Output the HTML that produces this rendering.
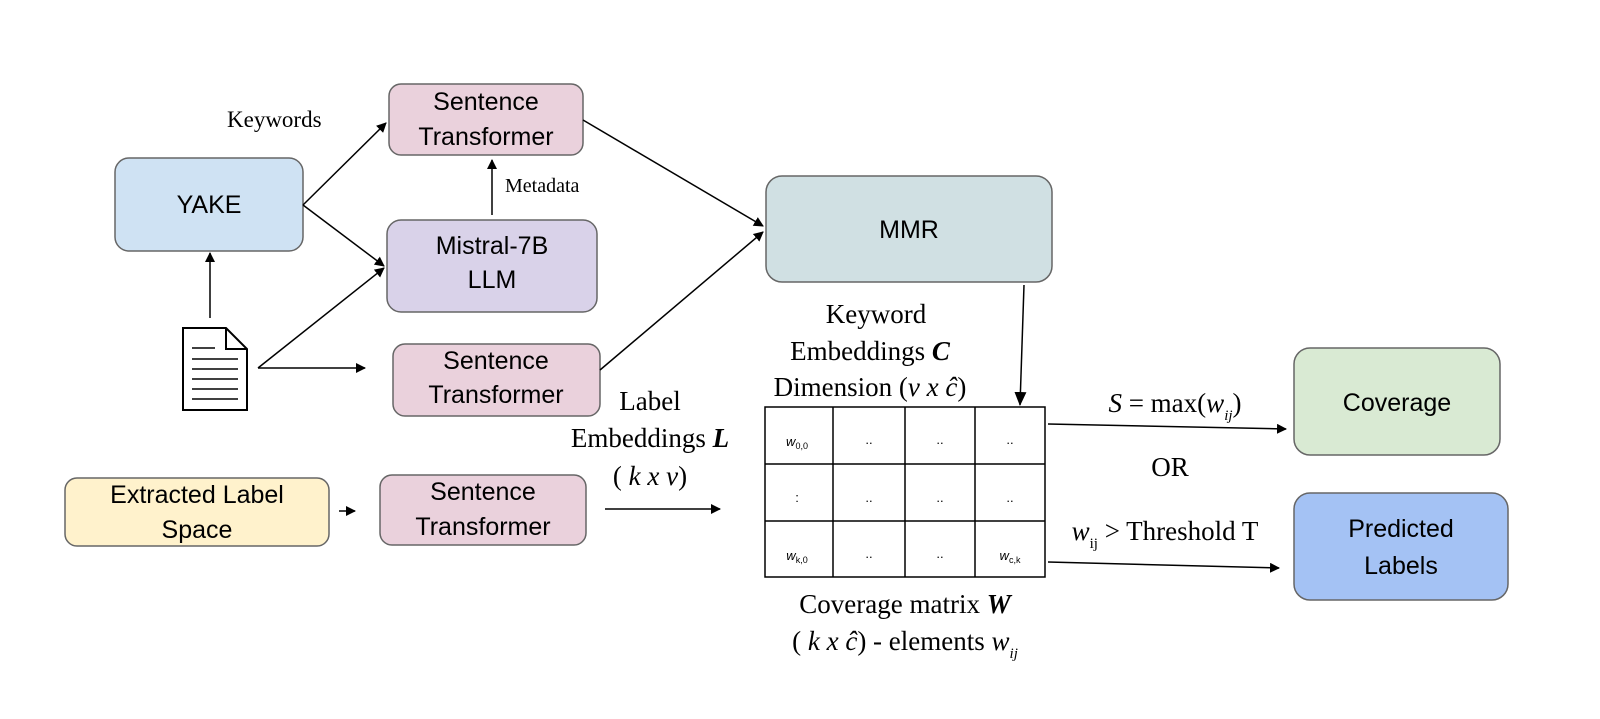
<!DOCTYPE html>
<html><head><meta charset="utf-8"><style>
body{margin:0;background:#fff;width:1600px;height:714px;overflow:hidden}
text.ss{font-family:"Liberation Sans",sans-serif}
text.sf{font-family:"Liberation Serif",serif}
</style></head><body>
<svg width="1600" height="714" viewBox="0 0 1600 714" xmlns="http://www.w3.org/2000/svg">
<defs><marker id="a" markerWidth="10" markerHeight="10" refX="9" refY="5" orient="auto" markerUnits="userSpaceOnUse"><path d="M0,0 L10,5 L0,10 z" fill="#000"/></marker>
<marker id="b" markerWidth="14" markerHeight="12" refX="13" refY="6" orient="auto" markerUnits="userSpaceOnUse"><path d="M0,0 L14,6 L0,12 z" fill="#000"/></marker></defs>
<g stroke="#666" stroke-width="1.5">
<rect x="115" y="158" width="188" height="93" rx="14" fill="#cfe2f3"/>
<rect x="389" y="84" width="194" height="71" rx="12" fill="#ead1dc"/>
<rect x="387" y="220" width="210" height="92" rx="14" fill="#d9d2e9"/>
<rect x="393" y="344" width="207" height="72" rx="12" fill="#ead1dc"/>
<rect x="766" y="176" width="286" height="106" rx="16" fill="#d0e0e3"/>
<rect x="65" y="478" width="264" height="68" rx="12" fill="#fff2cc"/>
<rect x="380" y="475" width="206" height="70" rx="12" fill="#ead1dc"/>
<rect x="1294" y="348" width="206" height="107" rx="16" fill="#d9ead3"/>
<rect x="1294" y="493" width="214" height="107" rx="16" fill="#a4c2f4"/>
</g>
<g font-size="25" text-anchor="middle" fill="#000">
<text class="ss" x="209" y="213">YAKE</text>
<text class="ss" x="486" y="110">Sentence</text><text class="ss" x="486" y="145">Transformer</text>
<text class="ss" x="492" y="254">Mistral-7B</text><text class="ss" x="492" y="288">LLM</text>
<text class="ss" x="496" y="369">Sentence</text><text class="ss" x="496" y="403">Transformer</text>
<text class="ss" x="909" y="238">MMR</text>
<text class="ss" x="197" y="503">Extracted Label</text><text class="ss" x="197" y="538">Space</text>
<text class="ss" x="483" y="500">Sentence</text><text class="ss" x="483" y="535">Transformer</text>
<text class="ss" x="1397" y="411">Coverage</text>
<text class="ss" x="1401" y="537">Predicted</text><text class="ss" x="1401" y="574">Labels</text>
</g>
<g stroke="#000" stroke-width="2" fill="#fff">
<path d="M183,328 L226,328 L247,349 L247,410 L183,410 Z"/>
<path d="M226,328 L226,349 L247,349" fill="none"/>
<path d="M192,348 L215,348 M192,359 L238,359 M192,369 L238,369 M192,379 L238,379 M192,389 L238,389 M192,399 L238,399" fill="none" stroke-width="1.5"/>
</g>
<g stroke="#000" stroke-width="1.5" fill="none">
<line x1="210" y1="318" x2="210" y2="253" marker-end="url(#a)"/>
<line x1="303" y1="205" x2="386" y2="123" marker-end="url(#a)"/>
<line x1="303" y1="205" x2="384" y2="266" marker-end="url(#a)"/>
<line x1="258" y1="368" x2="384" y2="268" marker-end="url(#a)"/>
<line x1="258" y1="368" x2="365" y2="368" marker-end="url(#a)"/>
<line x1="492" y1="215" x2="492" y2="160" marker-end="url(#a)"/>
<line x1="583" y1="120" x2="763" y2="226" marker-end="url(#a)"/>
<line x1="600" y1="370" x2="763" y2="232" marker-end="url(#a)"/>
<line x1="339" y1="511" x2="355" y2="511" marker-end="url(#a)"/>
<line x1="605" y1="509" x2="720" y2="509" marker-end="url(#a)"/>
<line x1="1024" y1="285" x2="1020" y2="405" marker-end="url(#b)"/>
<line x1="1048" y1="424" x2="1286" y2="429" marker-end="url(#a)"/>
<line x1="1048" y1="562" x2="1279" y2="568" marker-end="url(#a)"/>
</g>
<g stroke="#000" stroke-width="1.5" fill="none">
<rect x="765" y="407" width="280" height="170"/>
<line x1="833" y1="407" x2="833" y2="577"/><line x1="905" y1="407" x2="905" y2="577"/><line x1="975" y1="407" x2="975" y2="577"/>
<line x1="765" y1="464" x2="1045" y2="464"/><line x1="765" y1="521" x2="1045" y2="521"/>
</g>
<g font-size="13" text-anchor="middle">
<text class="ss" x="797" y="446" font-style="italic">w<tspan font-size="9" dy="3" font-style="normal">0,0</tspan></text>
<text class="ss" x="869" y="444">..</text><text class="ss" x="940" y="444">..</text><text class="ss" x="1010" y="444">..</text>
<text class="ss" x="797" y="502">:</text><text class="ss" x="869" y="502">..</text><text class="ss" x="940" y="502">..</text><text class="ss" x="1010" y="502">..</text>
<text class="ss" x="797" y="560" font-style="italic">w<tspan font-size="9" dy="3" font-style="normal">k,0</tspan></text>
<text class="ss" x="869" y="558">..</text><text class="ss" x="940" y="558">..</text>
<text class="ss" x="1010" y="560" font-style="italic">w<tspan font-size="9" dy="3" font-style="normal">c,k</tspan></text>
</g>
<text class="sf" x="227" y="127" font-size="23">Keywords</text>
<text class="sf" x="505" y="192" font-size="20">Metadata</text>
<g text-anchor="middle" font-size="27" fill="#000">
<text class="sf" x="876" y="323">Keyword</text>
<text class="sf" x="870" y="360">Embeddings <tspan font-weight="bold" font-style="italic">C</tspan></text>
<text class="sf" x="870" y="396">Dimension (<tspan font-style="italic">v x ĉ</tspan>)</text>
<text class="sf" x="650" y="410">Label</text>
<text class="sf" x="650" y="447">Embeddings <tspan font-weight="bold" font-style="italic">L</tspan></text>
<text class="sf" x="650" y="485">( <tspan font-style="italic">k x v</tspan>)</text>
<text class="sf" x="905" y="613">Coverage matrix <tspan font-weight="bold" font-style="italic">W</tspan></text>
<text class="sf" x="905" y="650">( <tspan font-style="italic">k x ĉ</tspan>) - elements <tspan font-style="italic">w</tspan><tspan font-size="15" dy="8" font-style="italic">ij</tspan></text>
<text class="sf" x="1175" y="412"><tspan font-style="italic">S</tspan> = max(<tspan font-style="italic">w</tspan><tspan font-size="15" dy="8" font-style="italic">ij</tspan><tspan dy="-8">)</tspan></text>
<text class="sf" x="1170" y="476">OR</text>
<text class="sf" x="1165" y="540"><tspan font-style="italic">w</tspan><tspan font-size="15" dy="8">ij</tspan><tspan dy="-8"> &gt;  Threshold T</tspan></text>
</g>
</svg>
</body></html>
